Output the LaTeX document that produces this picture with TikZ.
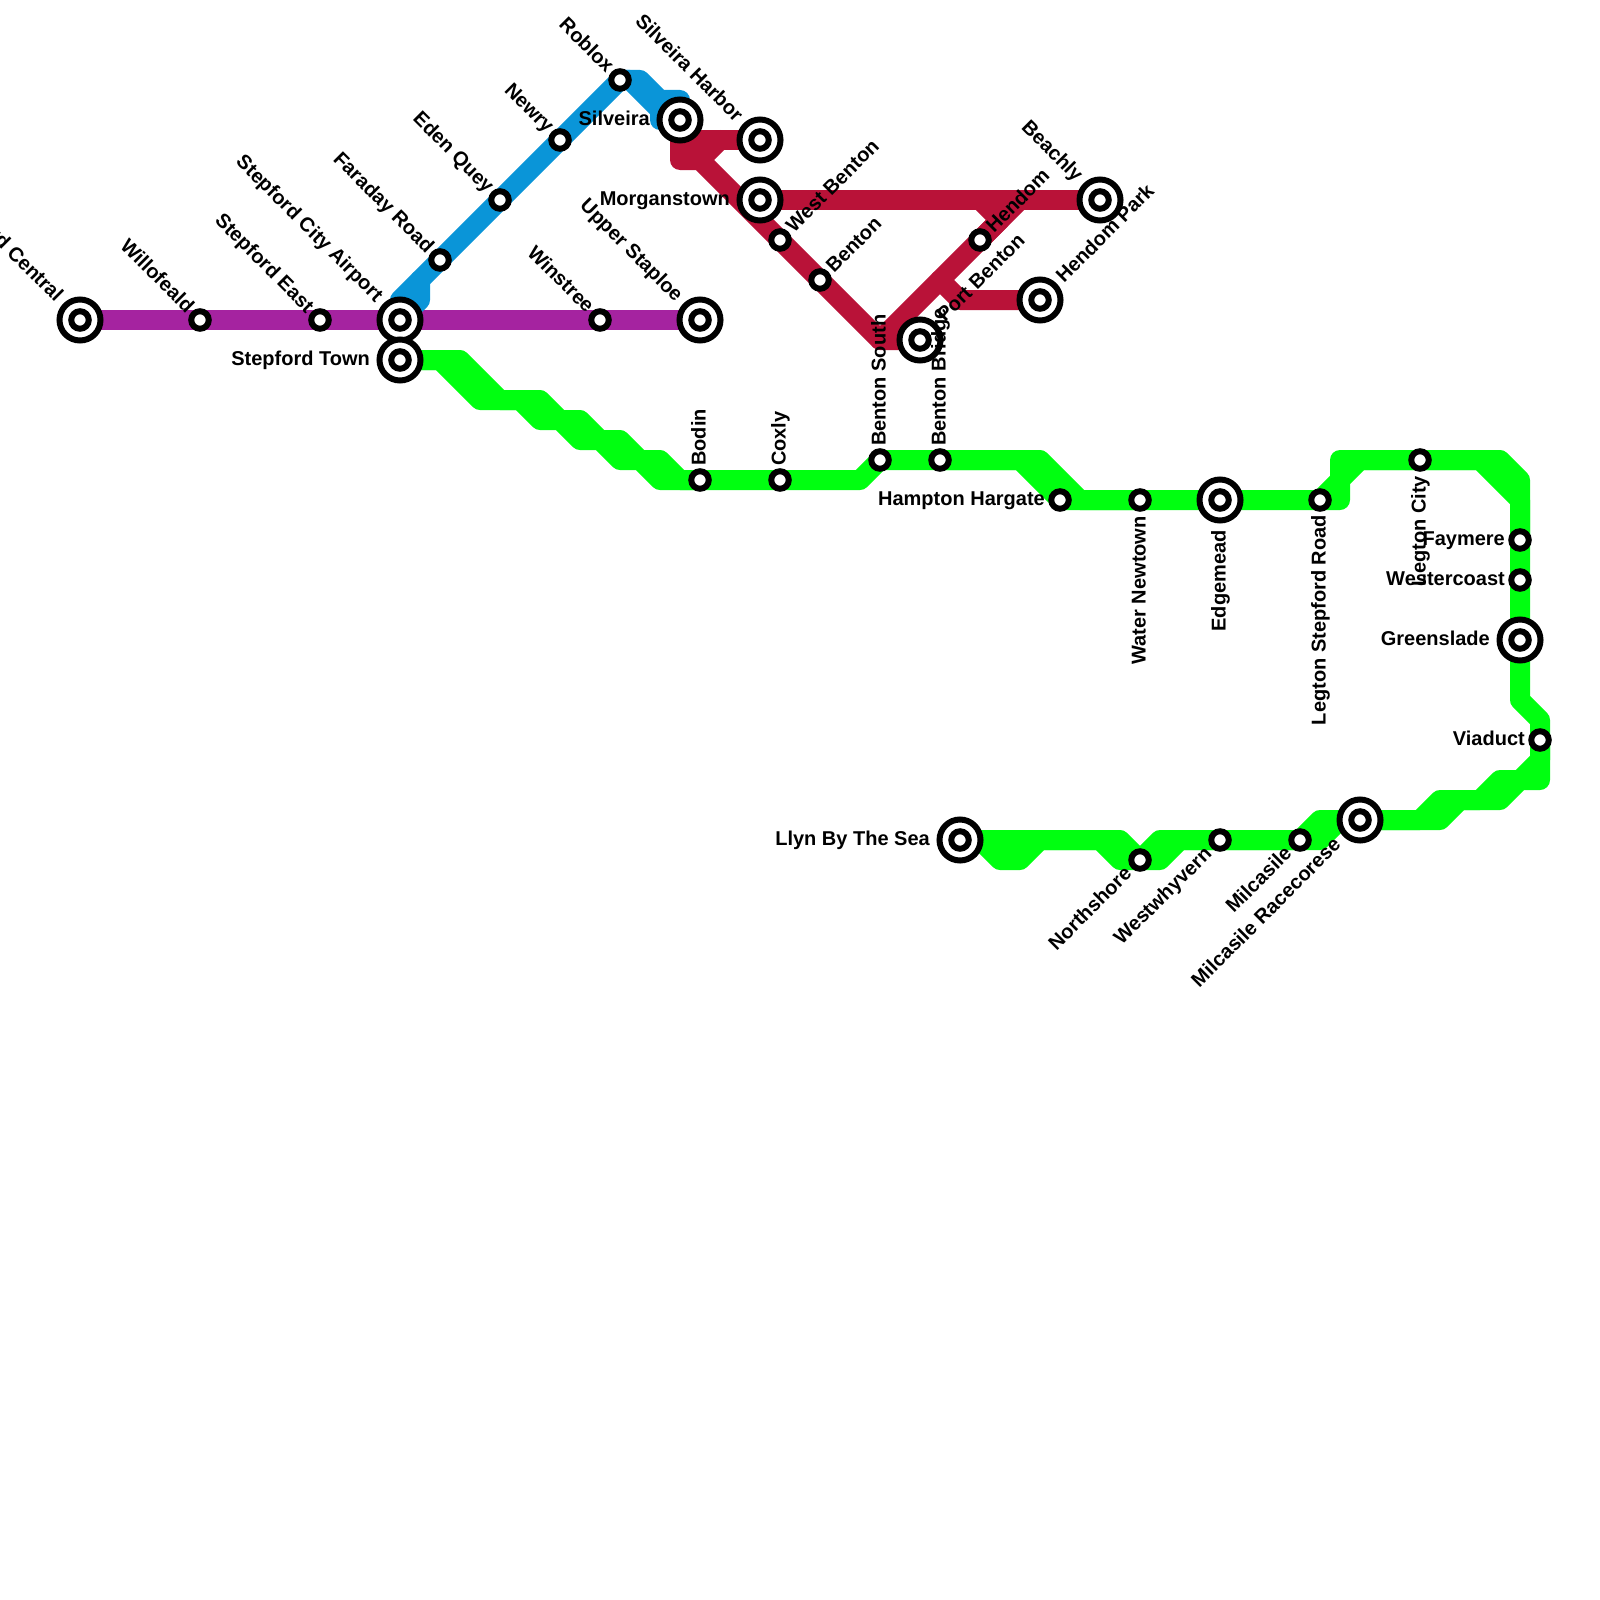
\documentclass[tikz,border=0pt]{standalone}
\usepackage{fontspec}
\setmainfont{Liberation Sans}
\usetikzlibrary{calc}
\pgfdeclarelayer{rails}
\pgfsetlayers{rails,main}
\definecolor{lnpurple}{RGB}{165,35,160}
\definecolor{lnblue}{RGB}{10,149,216}
\definecolor{lnred}{RGB}{185,18,56}
\definecolor{lngreen}{RGB}{0,255,16}
\tikzset{
  rail/.style={line width=20pt,line join=round,line cap=round},
  minorst/.style={circle,draw=black,fill=white,line width=6pt,inner sep=0pt,outer sep=0pt,minimum size=17.5pt},
  majorst/.style={circle,draw=black,fill=white,line width=6pt,inner sep=0pt,outer sep=0pt,minimum size=41pt,
    path picture={\draw[line width=6pt] (path picture bounding box.center) circle (8.75pt);}},
  lab/.style={inner sep=0pt,text height=15pt,text depth=4pt,font=\fontsize{20}{24}\selectfont\bfseries},
}
% #1 rotation, #2 anchor, #3 node name, #4 station, #5 dx, #6 dy, #7 text
\newcommand{\lbl}[7]{\node[lab,rotate=#1,anchor=#2] (#3) at ($(#4.center)+(#5,#6)$) {#7};}
\newcommand{\lul}[3]{\lbl{-45}{east}{#1l}{#1}{-#2}{#2}{#3}}
\newcommand{\lur}[3]{\lbl{45}{west}{#1l}{#1}{#2}{#2}{#3}}
\newcommand{\ldl}[3]{\lbl{45}{east}{#1l}{#1}{-#2}{-#2}{#3}}
\newcommand{\llf}[3]{\lbl{0}{east}{#1l}{#1}{-#2}{0}{#3}}
\newcommand{\lup}[3]{\lbl{90}{west}{#1l}{#1}{0}{#2}{#3}}
\newcommand{\ldn}[3]{\lbl{90}{east}{#1l}{#1}{0}{-#2}{#3}}
\begin{document}
\begin{tikzpicture}[x=1pt,y=1pt]
\useasboundingbox (0,0) rectangle (1600,-1600);
% stations
\node[majorst] (central) at (80,-320) {};
\node[minorst] (willo) at (200,-320) {};
\node[minorst] (east) at (320,-320) {};
\node[majorst] (airport) at (400,-320) {};
\node[majorst] (town) at (400,-360) {};
\node[minorst] (winstree) at (600,-320) {};
\node[majorst] (staploe) at (700,-320) {};
\node[minorst] (faraday) at (440,-260) {};
\node[minorst] (eden) at (500,-200) {};
\node[minorst] (newry) at (560,-140) {};
\node[minorst] (roblox) at (620,-80) {};
\node[majorst] (silveira) at (680,-120) {};
\node[majorst] (harbor) at (760,-140) {};
\node[majorst] (morgan) at (760,-200) {};
\node[minorst] (westb) at (780,-240) {};
\node[minorst] (benton) at (820,-280) {};
\node[majorst] (port) at (920,-340) {};
\node[minorst] (hendom) at (980,-240) {};
\node[majorst] (hpark) at (1040,-300) {};
\node[majorst] (beachly) at (1100,-200) {};
\node[minorst] (bodin) at (700,-480) {};
\node[minorst] (coxly) at (780,-480) {};
\node[minorst] (bsouth) at (880,-460) {};
\node[minorst] (bbridge) at (940,-460) {};
\node[minorst] (hampton) at (1060,-500) {};
\node[minorst] (water) at (1140,-500) {};
\node[majorst] (edge) at (1220,-500) {};
\node[minorst] (lsr) at (1320,-500) {};
\node[minorst] (lcity) at (1420,-460) {};
\node[minorst] (faymere) at (1520,-540) {};
\node[minorst] (wcoast) at (1520,-580) {};
\node[majorst] (gslade) at (1520,-640) {};
\node[minorst] (viaduct) at (1540,-740) {};
\node[majorst] (race) at (1360,-820) {};
\node[minorst] (milc) at (1300,-840) {};
\node[minorst] (wwhy) at (1220,-840) {};
\node[minorst] (north) at (1140,-860) {};
\node[majorst] (llyn) at (960,-840) {};
% lines
\begin{pgfonlayer}{rails}
\draw[rail,lnpurple] (central.center) -- (staploe.center);
% blue
\draw[rail,lnblue] (airport.center) -- (400,-300) -- (faraday.center) -- (roblox.center) -- (640,-80) -- (660,-100) -- (680,-100) -- (silveira.center);
\draw[rail,lnblue] (airport.center) -- (420,-300) -- (420,-280);
\draw[rail,lnblue] (roblox.center) -- (630,-80) -- (660,-110) -- (660,-120) -- (silveira.center);
% red
\draw[rail,lnred] (silveira.center) -- (680,-160) -- (700,-160) -- (westb.center) -- (benton.center) -- (880,-340) -- (port.center);
\draw[rail,lnred] (680,-140) -- (harbor.center);
\draw[rail,lnred] (700,-160) -- (720,-140);
\draw[rail,lnred] (morgan.center) -- (beachly.center);
\draw[rail,lnred] (980,-200) -- (1000,-220) -- (hendom.center) -- (880,-340);
\draw[rail,lnred] (1020,-200) -- (hendom.center);
\draw[rail,lnred] (hpark.center) -- (960,-300) -- (940,-280);
% green
\draw[rail,lngreen] (town.center) -- (460,-360) -- (500,-400) -- (540,-400) -- (560,-420) -- (580,-420) -- (600,-440) -- (620,-440) -- (640,-460) -- (660,-460) -- (680,-480) -- (bodin.center);
\draw[rail,lngreen] (town.center) -- (440,-360) -- (480,-400) -- (520,-400) -- (540,-420) -- (560,-420) -- (580,-440) -- (600,-440) -- (620,-460) -- (640,-460) -- (660,-480) -- (bodin.center);
\draw[rail,lngreen] (bodin.center) -- (coxly.center) -- (860,-480) -- (bsouth.center) -- (bbridge.center) -- (1040,-460) -- (1080,-500) -- (water.center);
\draw[rail,lngreen] (bbridge.center) -- (1020,-460) -- (hampton.center) -- (water.center) -- (edge.center) -- (lsr.center) -- (1340,-480) -- (1340,-460) -- (lcity.center) -- (1500,-460) -- (1520,-480) -- (faymere.center) -- (wcoast.center) -- (gslade.center) -- (1520,-700) -- (1540,-720) -- (viaduct.center);
\draw[rail,lngreen] (lsr.center) -- (1340,-500) -- (1340,-480) -- (1360,-460) -- (lcity.center) -- (1480,-460) -- (1520,-500) -- (faymere.center);
\draw[rail,lngreen] (viaduct.center) -- (1540,-780) -- (1520,-780) -- (1500,-800) -- (1460,-800) -- (1440,-820) -- (race.center);
\draw[rail,lngreen] (viaduct.center) -- (1540,-760) -- (1520,-780) -- (1500,-780) -- (1480,-800) -- (1440,-800) -- (1420,-820) -- (race.center);
\draw[rail,lngreen] (llyn.center) -- (1120,-840) -- (north.center) -- (1160,-840) -- (wwhy.center) -- (milc.center) -- (1320,-820) -- (race.center);
\draw[rail,lngreen] (llyn.center) -- (980,-840) -- (1000,-860) -- (1020,-860) -- (1040,-840) -- (1100,-840) -- (1120,-860) -- (north.center) -- (1160,-860) -- (1180,-840) -- (wwhy.center) -- (milc.center) -- (1320,-840) -- (1340,-820) -- (race.center);
\end{pgfonlayer}
% labels
\lul{central}{21}{Stepford Central}
\lul{willo}{10}{Willofeald}
\lul{east}{10}{Stepford East}
\lul{airport}{21}{Stepford City Airport}
\lul{winstree}{10}{Winstree}
\lul{staploe}{21}{Upper Staploe}
\lul{faraday}{10}{Faraday Road}
\lul{eden}{10}{Eden Quey}
\lul{newry}{10}{Newry}
\lul{roblox}{10}{Roblox}
\lul{harbor}{21}{Silveira Harbor}
\lul{beachly}{21}{Beachly}
\llf{town}{30}{Stepford Town}
\llf{silveira}{30}{Silveira}
\llf{morgan}{30}{Morganstown}
\llf{hampton}{15}{Hampton Hargate}
\llf{faymere}{15}{Faymere}
\llf{wcoast}{15}{Westercoast}
\llf{gslade}{30}{Greenslade}
\llf{viaduct}{15}{Viaduct}
\llf{llyn}{30}{Llyn By The Sea}
\lur{westb}{10}{West Benton}
\lur{benton}{10}{Benton}
\lur{hendom}{10}{Hendom}
\lur{hpark}{20}{Hendom Park}
\lur{port}{21}{Port Benton}
\lup{bodin}{14}{Bodin}
\lup{coxly}{14}{Coxly}
\lup{bsouth}{14}{Benton South}
\lup{bbridge}{14}{Benton Bridge}
\ldn{water}{16}{Water Newtown}
\ldn{edge}{30}{Edgemead}
\ldn{lsr}{15}{Legton Stepford Road}
\ldn{lcity}{16}{Legton City}
\ldl{north}{11}{Northshore}
\ldl{wwhy}{11}{Westwhyvern}
\ldl{milc}{11}{Milcasile}
\ldl{race}{22}{Milcasile Racecorese}
\end{tikzpicture}
\end{document}
